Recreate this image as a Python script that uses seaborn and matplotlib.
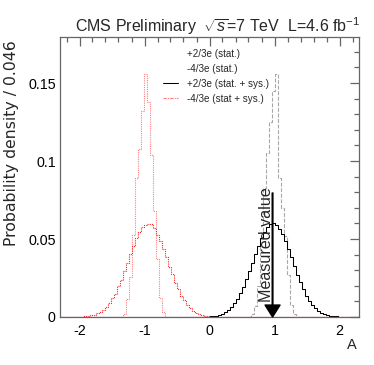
import numpy as np
import pandas as pd
import matplotlib
matplotlib.use("Agg")
import matplotlib.pyplot as plt
import seaborn as sns
from matplotlib.lines import Line2D
from matplotlib.ticker import MultipleLocator, FuncFormatter

# ---------------- data ----------------
x_min, x_max, n_bins = -2.3, 2.3, 100          # bin width 0.046
measured_value = 0.97

# +2/3e (stat. + sys.)  -- bins starting at index 48
plus_sys_start = 48
plus_sys = [0.0001, 0.0002, 0.0004, 0.0006, 0.0009, 0.0015, 0.0022, 0.0032, 0.0046, 0.0064,
            0.0087, 0.0117, 0.0152, 0.0194, 0.0241, 0.0293, 0.0348, 0.0404, 0.0457, 0.0506,
            0.0547, 0.0577, 0.0595, 0.0600, 0.0590, 0.0567, 0.0532, 0.0488, 0.0437, 0.0382,
            0.0326, 0.0272, 0.0222, 0.0177, 0.0137, 0.0104, 0.0077, 0.0056, 0.0040, 0.0028,
            0.0019, 0.0013, 0.0009, 0.0006, 0.0004, 0.0002, 0.0001]

# -4/3e (stat + sys.)  -- bins starting at index 6
minus_sys_start = 6
minus_sys = [0.0001, 0.0002, 0.0004, 0.0007, 0.0010, 0.0016, 0.0023, 0.0033, 0.0047, 0.0066,
             0.0089, 0.0119, 0.0150, 0.0196, 0.0238, 0.0295, 0.0345, 0.0406, 0.0452, 0.0508,
             0.0543, 0.0580, 0.0592, 0.0598, 0.0594, 0.0569, 0.0528, 0.0490, 0.0433, 0.0384,
             0.0322, 0.0275, 0.0219, 0.0179, 0.0135, 0.0106, 0.0076, 0.0057, 0.0039, 0.0028,
             0.0018, 0.0013, 0.0008, 0.0006, 0.0003, 0.0002, 0.0001]

# -4/3e (stat.)  -- bins starting at index 21
minus_stat_start = 21
minus_stat = [0.002, 0.0115, 0.0256, 0.0526, 0.089, 0.108, 0.132, 0.156, 0.138, 0.104,
              0.068, 0.037, 0.012, 0.003]

# +2/3e (stat.)  -- bins starting at index 64
plus_stat_start = 64
plus_stat = [0.002, 0.007, 0.020, 0.050, 0.083, 0.105, 0.125, 0.145, 0.156, 0.089,
             0.070, 0.052, 0.027, 0.008, 0.002]

labels = ["+2/3e (stat.)", "-4/3e (stat.)", "+2/3e (stat. + sys.)", "-4/3e (stat + sys.)"]

# ---------------- build table ----------------
edges = np.linspace(x_min, x_max, n_bins + 1)
centers = 0.5 * (edges[:-1] + edges[1:])

def full(start, vals):
    arr = np.zeros(n_bins)
    arr[start:start + len(vals)] = vals
    return arr

df = pd.DataFrame({
    "A": centers,
    "plus_stat": full(plus_stat_start, plus_stat),
    "minus_stat": full(minus_stat_start, minus_stat),
    "plus_sys": full(plus_sys_start, plus_sys),
    "minus_sys": full(minus_sys_start, minus_sys),
})

# ---------------- style ----------------
sns.set_theme(style="white")
plt.rcParams["font.family"] = ["Liberation Sans", "DejaVu Sans"]
plt.rcParams["mathtext.fontset"] = "custom"
plt.rcParams["mathtext.rm"] = "Liberation Sans"
plt.rcParams["mathtext.it"] = "Liberation Sans:italic"
plt.rcParams["axes.unicode_minus"] = False

W, H = 374, 365
fig = plt.figure(figsize=(W / 100, H / 100), dpi=100)
ax = fig.add_axes([60 / W, 1 - 317 / H, (359 - 60) / W, (317 - 37) / H])

styles = {
    "plus_stat": dict(color="#a8a8a8", linestyle=(0, (3.5, 1.5)), linewidth=0.8),
    "minus_stat": dict(color="#ff8080", linestyle=(0, (1, 1)), linewidth=0.8),
    "plus_sys": dict(color="black", linestyle="-", linewidth=0.75),
    "minus_sys": dict(color="#ff2020", linestyle=(0, (1, 1)), linewidth=0.8),
}
for col in ["plus_stat", "minus_stat", "plus_sys", "minus_sys"]:
    sns.histplot(data=df, x="A", weights=col, bins=n_bins, binrange=(x_min, x_max),
                 element="step", fill=False, stat="count", ax=ax, **styles[col])

ax.set_xlim(x_min, x_max)
ax.set_ylim(0, 0.1795)
ax.set_xlabel("")
ax.set_ylabel("")

ax.xaxis.set_major_locator(MultipleLocator(1))
ax.xaxis.set_minor_locator(MultipleLocator(0.2))
ax.yaxis.set_major_locator(MultipleLocator(0.05))
ax.yaxis.set_minor_locator(MultipleLocator(0.01))
ax.yaxis.set_major_formatter(FuncFormatter(lambda v, p: "%g" % round(v, 4)))
ax.xaxis.set_major_formatter(FuncFormatter(lambda v, p: "%g" % round(v, 4)))
ax.tick_params(which="both", direction="in", top=True, right=True, color="#666666",
               width=0.9, labelsize=10.3, labelcolor="black")
ax.tick_params(which="major", length=6.5)
ax.tick_params(which="minor", length=3.6)
ax.tick_params(axis="x", pad=5)
ax.tick_params(axis="y", pad=3)
for s in ax.spines.values():
    s.set_color("#666666")
    s.set_linewidth(0.9)

# measured value arrow
ax.annotate("", xy=(measured_value, 0), xytext=(measured_value, 0.0795),
            arrowprops=dict(facecolor="black", edgecolor="black", width=0.5,
                            headwidth=10.8, headlength=8.6, shrink=0))
ax.text(measured_value + 0.02, 0.0465, "Measured value", rotation=90,
        ha="right", va="center", fontsize=11.6)

# legend
handles = [Line2D([], [], color="none"),
           Line2D([], [], color="none"),
           Line2D([], [], **styles["plus_sys"]),
           Line2D([], [], color="#ff8080", linestyle=(0, (3, 1, 1, 1)), linewidth=0.8)]
fig.legend(handles, labels, loc="upper left", bbox_to_anchor=(163 / W, 1 - 49 / H),
           frameon=False, borderpad=0, borderaxespad=0, handlelength=1.5,
           handletextpad=0.9, labelspacing=0.5, fontsize=7.1)

# texts
fig.text(75 / W, 1 - 32 / H, r"CMS Preliminary  $\sqrt{s}$=7 TeV  L=4.6 fb$^{-1}$",
         ha="left", va="baseline", fontsize=11.5)
fig.text(12 / W, 1 - 40 / H, "Probability density / 0.046", rotation=90,
         ha="center", va="top", fontsize=11.3, family=["DejaVu Sans"])
fig.text(352 / W, 1 - 349 / H, "A", ha="center", va="baseline", fontsize=10.5)

fig.savefig("out.png", dpi=100)
